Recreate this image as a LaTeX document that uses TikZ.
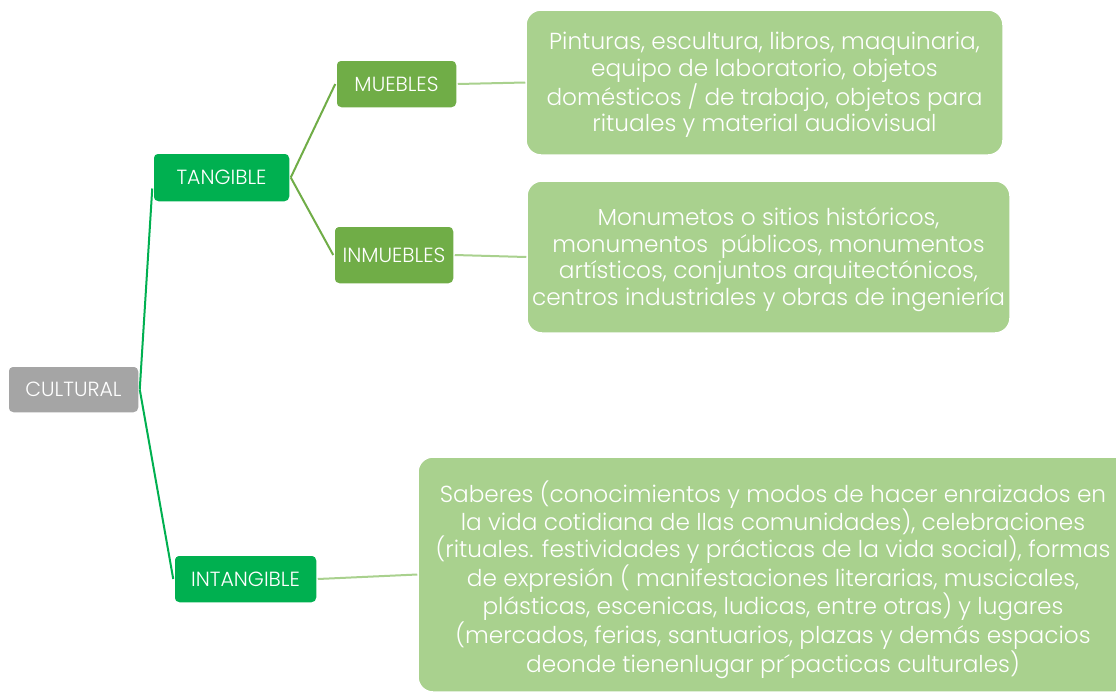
\documentclass[tikz,border=0pt]{standalone}
\usepackage{fontspec}
\setmainfont{Poppins Light}
\definecolor{gTan}{HTML}{00B050}
\definecolor{gMue}{HTML}{70AD47}
\definecolor{gDesc}{HTML}{A9D18E}
\definecolor{gCul}{HTML}{A5A5A5}
\tikzset{
  lbl/.style={draw=white, line width=1.5pt, rounded corners=5pt, text=white, inner sep=0pt, align=center, font=\fontsize{20.5}{23}\selectfont},
  descbox/.style={draw=white, line width=1.5pt, fill=gDesc, rounded corners=15pt, inner sep=0pt},
  desctext/.style={text=white, inner sep=0pt, align=center, font=\fontsize{23.2}{26.5}\selectfont},
  conn/.style={line width=2pt}
}
\begin{document}
\begin{tikzpicture}[x=1pt,y=-1pt]
\clip (0,0) rectangle (1116,694);
\fill[white] (0,0) rectangle (1116,694);
\node[lbl, fill=gCul, minimum width=131pt, minimum height=47pt] (cul) at (73.5,389.5) {CULTURAL};
\node[lbl, fill=gTan, minimum width=137pt, minimum height=49pt] (tan) at (221.5,177.5) {TANGIBLE};
\node[lbl, fill=gTan, minimum width=143pt, minimum height=48pt] (int) at (245.5,579) {INTANGIBLE};
\node[lbl, fill=gMue, minimum width=121pt, minimum height=48pt] (mue) at (396.5,84) {MUEBLES};
\node[lbl, fill=gMue, minimum width=120pt, minimum height=58pt] (inm) at (394,255) {INMUEBLES};
\node[descbox, minimum width=477pt, minimum height=145pt] (d1) at (764.5,82.5) {};
\node[desctext] (d1t) at (764.5,85) {Pinturas, escultura, libros, maquinaria,\\equipo de laboratorio, objetos\\domésticos / de trabajo, objetos para\\rituales y material audiovisual};
\node[descbox, minimum width=483pt, minimum height=152pt] (d2) at (768.5,257) {};
\node[desctext] (d2t) at (768.5,259.5) {Monumetos o sitios históricos,\\monumentos\ \ públicos, monumentos\\artísticos, conjuntos arquitectónicos,\\centros industriales y obras de ingeniería};
\node[descbox, minimum width=712pt, minimum height=235pt] (d3) at (774,574.5) {};
\node[desctext] (d3t) at (773,579.5) {Saberes (conocimientos y modos de hacer enraizados en\\la vida cotidiana de llas comunidades), celebraciones\\(rituales. festividades y prácticas de la vida social), formas\\de expresión ( manifestaciones literarias, muscicales,\\plásticas, escenicas, ludicas, entre otras) y lugares\\(mercados, ferias, santuarios, plazas y demás espacios\\deonde tienenlugar pr´pacticas culturales)};
\draw[conn, gTan] (cul.east) -- ([yshift=-11pt]tan.west);
\draw[conn, gTan] (cul.east) -- (int.west);
\draw[conn, gMue] (tan.east) -- (mue.west);
\draw[conn, gMue] (tan.east) -- (inm.west);
\draw[conn, gDesc] (mue.east) -- (d1.west);
\draw[conn, gDesc] (inm.east) -- (d2.west);
\draw[conn, gDesc] (int.east) -- (d3.west);
\end{tikzpicture}
\end{document}
